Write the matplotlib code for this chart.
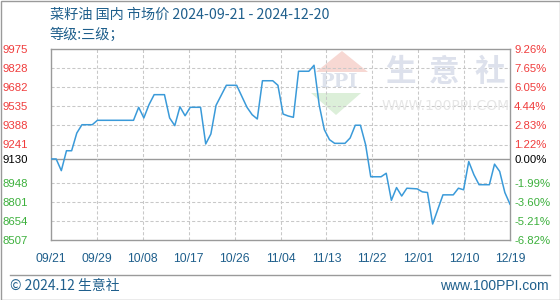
import matplotlib
matplotlib.use("Agg")
import matplotlib.pyplot as plt
import numpy as np
import pandas as pd
from matplotlib.patches import Polygon, Rectangle
from matplotlib.lines import Line2D

# data (date, price)
dates = ["09-21", "09-22", "09-23", "09-24", "09-25", "09-26", "09-27", "09-29", "09-30",
         "10-07", "10-08", "10-09", "10-10", "10-11", "10-13", "10-14", "10-15", "10-16",
         "10-17", "10-18", "10-20", "10-21", "10-22", "10-23", "10-24", "10-25", "10-27",
         "10-28", "10-29", "10-30", "10-31", "11-01", "11-03", "11-04", "11-05", "11-06",
         "11-07", "11-08", "11-10", "11-11", "11-12", "11-13", "11-14", "11-15", "11-17",
         "11-18", "11-19", "11-20", "11-21", "11-22", "11-24", "11-25", "11-26", "11-27",
         "11-28", "11-29", "12-01", "12-02", "12-03", "12-04", "12-06", "12-08", "12-09",
         "12-10", "12-11", "12-12", "12-13", "12-15", "12-16", "12-17", "12-18", "12-19"]
prices = [9130, 9130, 9040, 9193, 9193, 9329, 9393, 9393, 9427,
          9427, 9527, 9445, 9547, 9624, 9624, 9445, 9386, 9531,
          9462, 9527, 9527, 9245, 9322, 9542, 9619, 9696, 9696,
          9611, 9527, 9470, 9437, 9731, 9731, 9696, 9475, 9460,
          9450, 9804, 9804, 9850, 9545, 9355, 9278, 9250, 9250,
          9291, 9389, 9389, 9240, 8993, 8993, 9020, 8812, 8910,
          8845, 8905, 8900, 8877, 8872, 8630, 8854, 8854, 8905,
          8893, 9110, 9009, 8932, 8932, 9090, 9034, 8872, 8782]

base_price = 9130
y_ticks = [8507, 8654, 8801, 8948, 9130, 9241, 9388, 9535, 9682, 9828, 9975]
pct_labels = ["-6.82%", "-5.21%", "-3.60%", "-1.99%", "0.00%", "1.22%", "2.83%",
              "4.44%", "6.05%", "7.65%", "9.26%"]
x_labels = ["09/21", "09/29", "10/08", "10/17", "10/26", "11/04", "11/13",
            "11/22", "12/01", "12/10", "12/19"]

RED = "#f03c3c"
GREEN = "#3cb03c"
BLUE_TXT = "#1f5f8c"
LINE = "#3a9ad9"
GRAY = "#9a9a9a"

cjk = ["Noto Sans CJK SC", "DejaVu Sans"]

W, H = 560, 300
fig = plt.figure(figsize=(5.6, 3.0), dpi=100)
fig.patch.set_facecolor("white")


def fx(px):
    return px / W


def fy(py):
    return 1 - py / H


ax = fig.add_axes([fx(51), fy(240), fx(510) - fx(51), fy(49) - fy(240)])
ax.set_facecolor("none")

start = pd.Timestamp("2024-09-21")
days = np.array([(pd.Timestamp("2024-" + d) - start).days for d in dates])

ax.set_xlim(0, 89)
ax.set_ylim(y_ticks[0], y_ticks[-1])

# grid
for v in y_ticks[1:-1]:
    if v == base_price:
        ax.axhline(v, color=GRAY, lw=1.0, zorder=1)
    else:
        ax.axhline(v, color="#c8c8c8", lw=0.75, ls=(0, (3, 2)), zorder=1)
xt = np.linspace(0, 89, len(x_labels))
for x in xt[1:-1]:
    ax.axvline(x, color="#c8c8c8", lw=0.75, ls=(0, (3, 2)), zorder=1)

ax.plot(days, prices, color=LINE, lw=1.1, zorder=3)

for s in ax.spines.values():
    s.set_color(GRAY)
    s.set_linewidth(1.0)

ax.set_yticks(y_ticks)
ax.set_yticklabels([str(v) for v in y_ticks], fontfamily="Liberation Sans", fontsize=8.2)
ax.tick_params(axis="y", length=0, pad=16.5)
for lab, v in zip(ax.get_yticklabels(), y_ticks):
    lab.set_horizontalalignment("right")
    if v > base_price:
        lab.set_color(RED)
    elif v < base_price:
        lab.set_color(GREEN)
    else:
        lab.set_color("black")

ax.set_xticks(xt)
ax.set_xticklabels(x_labels, fontfamily="Liberation Sans", fontsize=8.8, color=BLUE_TXT)
ax.tick_params(axis="x", length=0, pad=9)

ax2 = ax.twinx()
ax2.set_ylim(ax.get_ylim())
ax2.set_yticks(y_ticks)
ax2.set_yticklabels(pct_labels, fontfamily="Liberation Sans", fontsize=8.2)
ax2.tick_params(axis="y", length=0, pad=3)
for lab, v in zip(ax2.get_yticklabels(), y_ticks):
    if v > base_price:
        lab.set_color(RED)
    elif v < base_price:
        lab.set_color(GREEN)
    else:
        lab.set_color("black")
for s in ax2.spines.values():
    s.set_visible(False)

# watermark (logo + text)
fig.add_artist(Polygon([[fx(316), fy(72)], [fx(342), fy(51)], [fx(368), fy(72)]],
                       closed=True, transform=fig.transFigure, facecolor="#f7d8d3",
                       edgecolor="none", zorder=0))
fig.add_artist(Polygon([[fx(311), fy(93)], [fx(336), fy(115)], [fx(361), fy(93)]],
                       closed=True, transform=fig.transFigure, facecolor="#dcefd9",
                       edgecolor="none", zorder=0))
fig.text(fx(338), fy(82), "PPI", fontsize=14, fontweight="bold", family="DejaVu Serif",
         color="#dde2ec", ha="center", va="center", zorder=0)
for cx, ch in zip([400, 444, 490], "生意社"):
    fig.text(fx(cx), fy(72), ch, fontsize=22, family=cjk, fontweight="bold",
             color="#dde1ec", ha="center", va="center", zorder=0)
fig.text(fx(446), fy(106), "WWW.100PPI.COM", fontsize=10, family="DejaVu Sans",
         color="#e6e6e6", ha="center", va="center", zorder=0)

# titles
fig.text(fx(50), fy(15), "菜籽油 国内 市场价 2024-09-21 - 2024-12-20", fontsize=10.2,
         family=cjk, color=BLUE_TXT, ha="left", va="center")
fig.text(fx(50), fy(35), "等级:三级；", fontsize=10.2, family=cjk, color=BLUE_TXT,
         ha="left", va="center")

# footer
fig.add_artist(Line2D([fx(10), fx(550)], [fy(275), fy(275)], transform=fig.transFigure,
                      color=GRAY, lw=1.0))
fig.text(fx(10), fy(286), "© 2024.12 生意社", fontsize=10, family=cjk, color=BLUE_TXT,
         ha="left", va="center")
fig.text(fx(549), fy(286), "www.100PPI.com", fontsize=10, family="Liberation Sans",
         color=BLUE_TXT, ha="right", va="center")

# outer border
fig.add_artist(Rectangle((0.5 / W, 0.5 / H), 1 - 1 / W, 1 - 1 / H, transform=fig.transFigure,
                         fill=False, edgecolor=GRAY, lw=1.0))

fig.savefig("out.png", dpi=100)
